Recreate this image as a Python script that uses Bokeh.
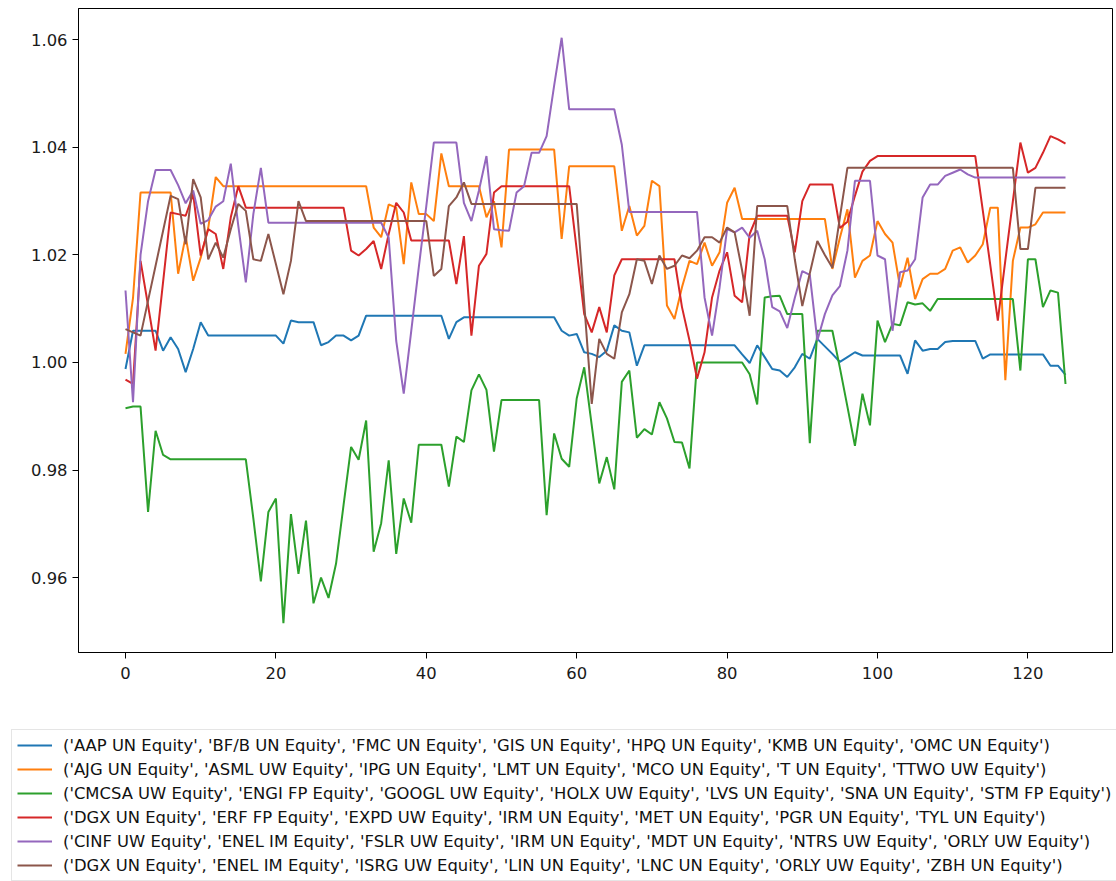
from bokeh.plotting import figure
from bokeh.layouts import column
from bokeh.models import Range1d, FixedTicker, Legend, LegendItem, PrintfTickFormatter
from bokeh.embed import file_html
from bokeh.resources import INLINE

x = list(range(126))

tickers_1 = ('AAP UN Equity', 'BF/B UN Equity', 'FMC UN Equity', 'GIS UN Equity', 'HPQ UN Equity', 'KMB UN Equity', 'OMC UN Equity')
tickers_2 = ('AJG UN Equity', 'ASML UW Equity', 'IPG UN Equity', 'LMT UN Equity', 'MCO UN Equity', 'T UN Equity', 'TTWO UW Equity')
tickers_3 = ('CMCSA UW Equity', 'ENGI FP Equity', 'GOOGL UW Equity', 'HOLX UW Equity', 'LVS UN Equity', 'SNA UN Equity', 'STM FP Equity')
tickers_4 = ('DGX UN Equity', 'ERF FP Equity', 'EXPD UW Equity', 'IRM UN Equity', 'MET UN Equity', 'PGR UN Equity', 'TYL UN Equity')
tickers_5 = ('CINF UW Equity', 'ENEL IM Equity', 'FSLR UW Equity', 'IRM UN Equity', 'MDT UN Equity', 'NTRS UW Equity', 'ORLY UW Equity')
tickers_6 = ('DGX UN Equity', 'ENEL IM Equity', 'ISRG UW Equity', 'LIN UN Equity', 'LNC UN Equity', 'ORLY UW Equity', 'ZBH UN Equity')

blue = [
    0.9988, 1.0059, 1.0059, 1.0059, 1.0059, 1.0022, 1.0047, 1.0025, 0.9982, 1.0025,
    1.0075, 1.0050, 1.0050, 1.0050, 1.0050, 1.0050, 1.0050, 1.0050, 1.0050, 1.0050,
    1.0050, 1.0035, 1.0078, 1.0075, 1.0075, 1.0075, 1.0032, 1.0038, 1.0050, 1.0050,
    1.0041, 1.0050, 1.0087, 1.0087, 1.0087, 1.0087, 1.0087, 1.0087, 1.0087, 1.0087,
    1.0087, 1.0087, 1.0087, 1.0044, 1.0075, 1.0084, 1.0084, 1.0084, 1.0084, 1.0084,
    1.0084, 1.0084, 1.0084, 1.0084, 1.0084, 1.0084, 1.0084, 1.0084, 1.0059, 1.0050,
    1.0053, 1.0019, 1.0016, 1.0010, 1.0022, 1.0069, 1.0059, 1.0056, 0.9994, 1.0032,
    1.0032, 1.0032, 1.0032, 1.0032, 1.0032, 1.0032, 1.0032, 1.0032, 1.0032, 1.0032,
    1.0032, 1.0032, 1.0015, 0.9999, 1.0032, 1.0010, 0.9988, 0.9985, 0.9973, 0.9991,
    1.0016, 1.0007, 1.0044, 1.0030, 1.0016, 1.0001, 1.0010, 1.0019, 1.0013, 1.0013,
    1.0013, 1.0013, 1.0013, 1.0013, 0.9979, 1.0041, 1.0022, 1.0025, 1.0025, 1.0038,
    1.0040, 1.0040, 1.0040, 1.0040, 1.0007, 1.0015, 1.0015, 1.0015, 1.0015, 1.0015,
    1.0015, 1.0015, 1.0015, 0.9994, 0.9994, 0.9977,
]

orange = [
    1.0016, 1.0120, 1.0316, 1.0316, 1.0316, 1.0316, 1.0316, 1.0165, 1.0235, 1.0152,
    1.0195, 1.0250, 1.0345, 1.0328, 1.0328, 1.0328, 1.0328, 1.0328, 1.0328, 1.0328,
    1.0328, 1.0328, 1.0328, 1.0328, 1.0328, 1.0328, 1.0328, 1.0328, 1.0328, 1.0328,
    1.0328, 1.0328, 1.0328, 1.0251, 1.0233, 1.0294, 1.0288, 1.0183, 1.0335, 1.0276,
    1.0276, 1.0263, 1.0389, 1.0328, 1.0328, 1.0328, 1.0328, 1.0328, 1.0270, 1.0300,
    1.0214, 1.0396, 1.0396, 1.0396, 1.0396, 1.0396, 1.0396, 1.0396, 1.0230, 1.0365,
    1.0365, 1.0365, 1.0365, 1.0365, 1.0365, 1.0365, 1.0245, 1.0291, 1.0236, 1.0254,
    1.0338, 1.0328, 1.0106, 1.0081, 1.0140, 1.0189, 1.0183, 1.0223, 1.0180, 1.0205,
    1.0297, 1.0325, 1.0267, 1.0267, 1.0267, 1.0267, 1.0267, 1.0267, 1.0267, 1.0267,
    1.0267, 1.0267, 1.0267, 1.0267, 1.0174, 1.0232, 1.0285, 1.0158, 1.0189, 1.0199,
    1.0263, 1.0239, 1.0223, 1.0140, 1.0195, 1.0118, 1.0155, 1.0165, 1.0165, 1.0174,
    1.0208, 1.0214, 1.0186, 1.0199, 1.0220, 1.0288, 1.0288, 0.9967, 1.0189, 1.0251,
    1.0251, 1.0257, 1.0279, 1.0279, 1.0279, 1.0279,
]

green = [
    0.9915, 0.9918, 0.9918, 0.9722, 0.9873, 0.9828, 0.9820, 0.9820, 0.9820, 0.9820,
    0.9820, 0.9820, 0.9820, 0.9820, 0.9820, 0.9820, 0.9820, 0.9710, 0.9593, 0.9722,
    0.9747, 0.9515, 0.9718, 0.9607, 0.9706, 0.9552, 0.9600, 0.9562, 0.9626, 0.9735,
    0.9843, 0.9819, 0.9892, 0.9648, 0.9701, 0.9818, 0.9644, 0.9747, 0.9702, 0.9847,
    0.9847, 0.9847, 0.9847, 0.9769, 0.9862, 0.9852, 0.9948, 0.9978, 0.9949, 0.9834,
    0.9930, 0.9930, 0.9930, 0.9930, 0.9930, 0.9930, 0.9716, 0.9868, 0.9821, 0.9806,
    0.9933, 0.9991, 0.9883, 0.9775, 0.9824, 0.9764, 0.9964, 0.9985, 0.9860, 0.9876,
    0.9866, 0.9926, 0.9896, 0.9852, 0.9851, 0.9803, 1.0000, 1.0000, 1.0000, 1.0000,
    1.0000, 1.0000, 1.0000, 0.9978, 0.9922, 1.0121, 1.0123, 1.0124, 1.0090, 1.0090,
    1.0090, 0.9850, 1.0059, 1.0059, 1.0059, 0.9990, 0.9918, 0.9845, 0.9942, 0.9883,
    1.0078, 1.0038, 1.0072, 1.0069, 1.0112, 1.0108, 1.0110, 1.0096, 1.0118, 1.0118,
    1.0118, 1.0118, 1.0118, 1.0118, 1.0118, 1.0118, 1.0118, 1.0118, 1.0118, 0.9985,
    1.0192, 1.0192, 1.0103, 1.0134, 1.0130, 0.9960,
]

red = [
    0.9968, 0.9960, 1.0189, 1.0106, 1.0022, 1.0150, 1.0279, 1.0276, 1.0273, 1.0313,
    1.0199, 1.0248, 1.0239, 1.0174, 1.0270, 1.0328, 1.0288, 1.0288, 1.0288, 1.0288,
    1.0288, 1.0288, 1.0288, 1.0288, 1.0288, 1.0288, 1.0288, 1.0288, 1.0288, 1.0288,
    1.0208, 1.0199, 1.0211, 1.0226, 1.0174, 1.0239, 1.0297, 1.0279, 1.0227, 1.0227,
    1.0227, 1.0227, 1.0227, 1.0227, 1.0146, 1.0235, 1.0050, 1.0180, 1.0202, 1.0316,
    1.0328, 1.0328, 1.0328, 1.0328, 1.0328, 1.0328, 1.0328, 1.0328, 1.0328, 1.0328,
    1.0210, 1.0090, 1.0056, 1.0103, 1.0056, 1.0162, 1.0192, 1.0192, 1.0192, 1.0192,
    1.0192, 1.0192, 1.0192, 1.0192, 1.0103, 1.0041, 0.9970, 1.0019, 1.0121, 1.0171,
    1.0205, 1.0124, 1.0112, 1.0239, 1.0273, 1.0273, 1.0273, 1.0273, 1.0273, 1.0205,
    1.0300, 1.0331, 1.0331, 1.0331, 1.0331, 1.0250, 1.0262, 1.0310, 1.0355, 1.0375,
    1.0384, 1.0384, 1.0384, 1.0384, 1.0384, 1.0384, 1.0384, 1.0384, 1.0384, 1.0384,
    1.0384, 1.0384, 1.0384, 1.0384, 1.0283, 1.0181, 1.0078, 1.0190, 1.0300, 1.0409,
    1.0353, 1.0362, 1.0390, 1.0421, 1.0415, 1.0407,
]

purple = [
    1.0134, 0.9926, 1.0200, 1.0300, 1.0358, 1.0358, 1.0358, 1.0330, 1.0296, 1.0320,
    1.0258, 1.0265, 1.0290, 1.0300, 1.0370, 1.0254, 1.0149, 1.0276, 1.0362, 1.0260,
    1.0260, 1.0260, 1.0260, 1.0260, 1.0260, 1.0260, 1.0260, 1.0260, 1.0260, 1.0260,
    1.0260, 1.0260, 1.0260, 1.0260, 1.0260, 1.0232, 1.0040, 0.9942, 1.0059, 1.0177,
    1.0291, 1.0409, 1.0409, 1.0409, 1.0409, 1.0297, 1.0263, 1.0320, 1.0384, 1.0248,
    1.0246, 1.0245, 1.0316, 1.0328, 1.0390, 1.0390, 1.0421, 1.0515, 1.0604, 1.0471,
    1.0471, 1.0471, 1.0471, 1.0471, 1.0471, 1.0471, 1.0405, 1.0280, 1.0280, 1.0280,
    1.0280, 1.0280, 1.0280, 1.0280, 1.0280, 1.0280, 1.0280, 1.0121, 1.0050, 1.0140,
    1.0248, 1.0242, 1.0251, 1.0232, 1.0245, 1.0192, 1.0103, 1.0095, 1.0064, 1.0120,
    1.0170, 1.0163, 1.0041, 1.0090, 1.0125, 1.0142, 1.0208, 1.0338, 1.0338, 1.0338,
    1.0199, 1.0192, 1.0059, 1.0168, 1.0171, 1.0192, 1.0307, 1.0331, 1.0331, 1.0347,
    1.0353, 1.0359, 1.0350, 1.0344, 1.0344, 1.0344, 1.0344, 1.0344, 1.0344, 1.0344,
    1.0344, 1.0344, 1.0344, 1.0344, 1.0344, 1.0344,
]

brown = [
    1.0062, 1.0056, 1.0050, 1.0115, 1.0180, 1.0245, 1.0310, 1.0304, 1.0220, 1.0341,
    1.0307, 1.0192, 1.0223, 1.0195, 1.0248, 1.0295, 1.0282, 1.0192, 1.0189, 1.0239,
    1.0183, 1.0127, 1.0189, 1.0300, 1.0263, 1.0263, 1.0263, 1.0263, 1.0263, 1.0263,
    1.0263, 1.0263, 1.0263, 1.0263, 1.0263, 1.0263, 1.0263, 1.0263, 1.0263, 1.0263,
    1.0263, 1.0161, 1.0174, 1.0291, 1.0307, 1.0335, 1.0295, 1.0295, 1.0295, 1.0295,
    1.0295, 1.0295, 1.0295, 1.0295, 1.0295, 1.0295, 1.0295, 1.0295, 1.0295, 1.0295,
    1.0295, 1.0110, 0.9923, 1.0044, 1.0016, 1.0007, 1.0093, 1.0127, 1.0192, 1.0189,
    1.0146, 1.0199, 1.0174, 1.0180, 1.0199, 1.0194, 1.0208, 1.0233, 1.0233, 1.0223,
    1.0251, 1.0242, 1.0171, 1.0087, 1.0291, 1.0291, 1.0291, 1.0291, 1.0291, 1.0192,
    1.0105, 1.0166, 1.0226, 1.0200, 1.0176, 1.0270, 1.0362, 1.0362, 1.0362, 1.0362,
    1.0362, 1.0362, 1.0362, 1.0362, 1.0362, 1.0362, 1.0362, 1.0362, 1.0362, 1.0362,
    1.0362, 1.0362, 1.0362, 1.0362, 1.0362, 1.0362, 1.0362, 1.0362, 1.0362, 1.0211,
    1.0211, 1.0325, 1.0325, 1.0325, 1.0325, 1.0325,
]

x_ticks = [0, 20, 40, 60, 80, 100, 120]
y_ticks = [0.96, 0.98, 1.00, 1.02, 1.04, 1.06]

series = [blue, orange, green, red, purple, brown]
labels = [str(t) for t in (tickers_1, tickers_2, tickers_3, tickers_4, tickers_5, tickers_6)]
colors = ["#1f77b4", "#ff7f0e", "#2ca02c", "#d62728", "#9467bd", "#8c564b"]

for s in series:
    assert len(s) == len(x), len(s)

all_vals = [v for s in series for v in s]
ymin, ymax = min(all_vals), max(all_vals)
ypad = (ymax - ymin) * 0.05
xpad = (x[-1] - x[0]) * 0.05

# ---- main chart ----
p = figure(width=1116, height=700, output_backend="svg", toolbar_location=None,
           x_range=Range1d(x[0] - xpad, x[-1] + xpad),
           y_range=Range1d(ymin - ypad, ymax + ypad),
           min_border_left=78, min_border_right=4, min_border_top=8, min_border_bottom=48)

p.xgrid.visible = False
p.ygrid.visible = False
p.outline_line_color = "black"
p.outline_line_alpha = 1.0
p.outline_line_width = 1
p.background_fill_color = "white"
p.border_fill_color = "white"

for ax in (p.xaxis[0], p.yaxis[0]):
    ax.axis_line_color = "black"
    ax.major_tick_line_color = "black"
    ax.minor_tick_line_color = None
    ax.major_tick_out = 6
    ax.major_tick_in = 0
    ax.major_label_text_font = "DejaVu Sans"
    ax.major_label_text_font_size = "16.4px"
    ax.major_label_text_color = "#1a1a1a"

p.xaxis[0].ticker = FixedTicker(ticks=x_ticks)
p.yaxis[0].ticker = FixedTicker(ticks=y_ticks)
p.yaxis[0].formatter = PrintfTickFormatter(format="%.2f")
p.xaxis[0].major_label_standoff = 8
p.yaxis[0].major_label_standoff = 5

for s, c in zip(series, colors):
    p.line(x, s, line_color=c, line_width=2)

# ---- legend panel below the chart ----
lf = figure(width=1116, height=181, output_backend="svg", toolbar_location=None,
            x_axis_type=None, y_axis_type=None,
            min_border_left=11, min_border_right=0, min_border_top=29, min_border_bottom=0)
lf.xgrid.visible = False
lf.ygrid.visible = False
lf.outline_line_color = None
lf.background_fill_color = "white"
lf.border_fill_color = "white"

for fig in (p, lf):
    try:
        fig.frame_align = False
    except Exception:
        pass

items = []
for s, lab, c in zip(series, labels, colors):
    r = lf.line(x, s, line_color=c, line_width=2, visible=False)
    items.append(LegendItem(label=lab, renderers=[r]))

legend = Legend(items=items, location="top_left")
legend.label_text_font = "DejaVu Sans"
legend.label_text_font_size = "16.4px"
legend.label_text_color = "#111111"
legend.glyph_width = 35
legend.glyph_height = 20
legend.label_height = 20
legend.label_standoff = 11
legend.spacing = 4
legend.padding = 5
legend.margin = 0
legend.border_line_color = "#cccccc"
legend.border_line_width = 1
legend.background_fill_alpha = 0.8
legend.inactive_fill_alpha = 0.0
lf.add_layout(legend, "center")

layout = column(p, lf, spacing=0)
open("out.html", "w").write(file_html(layout, INLINE))
